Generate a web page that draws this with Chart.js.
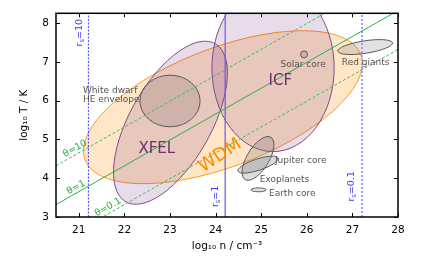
<!DOCTYPE html>
<html>
<head>
<meta charset="utf-8">
<script src="https://cdn.jsdelivr.net/npm/chart.js@4.4.0/dist/chart.umd.min.js"></script>
<style>body{margin:0;background:#fff}</style>
</head>
<body>
<canvas id="phaseChart" width="432" height="267"></canvas>
<script>
// regions of the density-temperature plane (log10 n, log10 T)
var regionNames = ['WDM', 'XFEL', 'ICF', 'White dwarf', 'Solar core', 'Red giants', 'Jupiter core', 'Exoplanets', 'Earth core'];
var regionLogN = [24.16, 23.01, 25.26, 23.0, 25.94, 27.28, 24.93, 24.93, 24.94];
var regionLogT = [5.83, 5.43, 6.84, 5.99, 7.19, 7.38, 4.51, 4.35, 3.70];
var regionWidth = [6.64, 4.53, 2.68, 1.32, 0.15, 1.22, 1.23, 0.94, 0.33];
var regionHeight = [2.98, 1.84, 4.31, 1.33, 0.18, 0.32, 0.50, 0.29, 0.10];
var regionAngle = [25.8, 65.9, 0, 0, 0, 10.4, 64.1, 21.5, 0];

// degeneracy lines theta = T/T_F
var thetaValues = ['10', '1', '0.1'];
var thetaLogN = [20.5, 28];
var thetaLogT = [[4.32, 9.32], [3.32, 8.32], [2.32, 7.32]];

// coupling lines r_s
var rsValues = ['10', '1', '0.1'];
var rsLogN = [21.21, 24.21, 27.21];

var xTicks = [21, 22, 23, 24, 25, 26, 27, 28];
var yTicks = [3, 4, 5, 6, 7, 8];

var FONT = "'DejaVu Sans', sans-serif";

var regionStyle = {
  'WDM':         { fill: 'rgba(255,140,0,0.22)', edge: '#ff9a1f' },
  'XFEL':        { fill: 'rgba(100,20,120,0.15)', edge: '#7f4f8a' },
  'ICF':         { fill: 'rgba(100,20,120,0.15)', edge: '#7f4f8a' },
  'White dwarf': { fill: 'rgba(70,60,60,0.15)', edge: '#5a5a5a' },
  'Solar core':  { fill: 'rgba(90,90,90,0.2)', edge: '#5a5a5a' },
  'Red giants':  { fill: 'rgba(110,110,110,0.2)', edge: '#5a5a5a' },
  'Jupiter core':{ fill: 'rgba(110,110,110,0.25)', edge: '#5a5a5a' },
  'Exoplanets':  { fill: 'rgba(110,110,110,0.25)', edge: '#5a5a5a' },
  'Earth core':  { fill: 'rgba(110,110,110,0.2)', edge: '#5a5a5a' }
};

var thetaStyle = [
  { color: '#3dbf5c', dash: [3, 2] },
  { color: '#27b24a', dash: [] },
  { color: '#3dbf5c', dash: [3, 2] }
];
var rsStyle = [
  { color: '#3b3bff', dash: [2, 1.5], width: 1 },
  { color: '#6a5ae8', dash: [], width: 1.2 },
  { color: '#9a9aff', dash: [2, 2], width: 2 }
];

// text placed in data coordinates
var notes = [
  { text: 'White dwarf', x: 21.09, y: 6.25, align: 'left', color: '#555', size: 9 },
  { text: 'HE envelope', x: 21.09, y: 6.02, align: 'left', color: '#555', size: 9 },
  { text: 'Solar core', x: 25.92, y: 6.92, align: 'center', color: '#555', size: 9 },
  { text: 'Red giants', x: 27.29, y: 6.97, align: 'center', color: '#555', size: 9 },
  { text: 'Jupiter core', x: 25.30, y: 4.44, align: 'left', color: '#555', size: 9 },
  { text: 'Exoplanets', x: 24.97, y: 3.97, align: 'left', color: '#555', size: 9 },
  { text: 'Earth core', x: 25.17, y: 3.61, align: 'left', color: '#555', size: 9 },
  { text: 'ICF', x: 25.42, y: 6.51, align: 'center', color: '#6a2f6e', size: 15 },
  { text: 'XFEL', x: 22.71, y: 4.76, align: 'center', color: '#6a2f6e', size: 15 },
  { text: 'WDM', x: 24.10, y: 4.58, align: 'center', color: '#ff8c00', size: 18, rot: -33 }
];
var thetaNotes = [
  { x: 20.92, y: 4.76 },
  { x: 20.94, y: 3.76 },
  { x: 21.64, y: 3.25 }
];
var rsNotes = [
  { x: 21.01, y: 7.75 },
  { x: 23.99, y: 3.53 },
  { x: 26.98, y: 3.79 }
];

var datasets = [];
thetaValues.forEach(function (t, i) {
  datasets.push({
    label: 'θ=' + t,
    data: thetaLogN.map(function (n, k) { return { x: n, y: thetaLogT[i][k] }; }),
    showLine: true, pointRadius: 0, borderWidth: 1,
    borderColor: thetaStyle[i].color, borderDash: thetaStyle[i].dash
  });
});
rsValues.forEach(function (r, i) {
  datasets.push({
    label: 'rs=' + r,
    data: [{ x: rsLogN[i], y: 3 }, { x: rsLogN[i], y: 8.25 }],
    showLine: true, pointRadius: 0, borderWidth: rsStyle[i].width,
    borderColor: rsStyle[i].color, borderDash: rsStyle[i].dash
  });
});

function drawEllipse(chart, i) {
  var ctx = chart.ctx, xs = chart.scales.x, ys = chart.scales.y;
  var px = xs.getPixelForValue(regionLogN[i]), py = ys.getPixelForValue(regionLogT[i]);
  var sx = xs.getPixelForValue(regionLogN[i] + 1) - px;
  var sy = ys.getPixelForValue(regionLogT[i] + 1) - py;
  var st = regionStyle[regionNames[i]];
  ctx.beginPath();
  ctx.save();
  ctx.translate(px, py);
  ctx.scale(sx, sy);
  ctx.rotate(regionAngle[i] * Math.PI / 180);
  ctx.ellipse(0, 0, regionWidth[i] / 2, regionHeight[i] / 2, 0, 0, 2 * Math.PI);
  ctx.restore();
  ctx.fillStyle = st.fill;
  ctx.fill();
  ctx.lineWidth = 1;
  ctx.strokeStyle = st.edge;
  ctx.stroke();
}

function drawParts(ctx, parts, size, color) {
  var widths = parts.map(function (p) {
    ctx.font = (p.sub ? size * 0.7 : size) + 'px ' + FONT;
    return ctx.measureText(p.t).width;
  });
  var total = widths.reduce(function (a, b) { return a + b; }, 0);
  var cur = -total / 2;
  ctx.fillStyle = color;
  ctx.textAlign = 'left';
  ctx.textBaseline = 'middle';
  parts.forEach(function (p, k) {
    ctx.font = (p.sub ? size * 0.7 : size) + 'px ' + FONT;
    ctx.fillText(p.t, cur, p.sub ? size * 0.3 : 0);
    cur += widths[k];
  });
}

var regionPlugin = {
  id: 'regions',
  beforeDatasetsDraw: function (chart) {
    var a = chart.chartArea, ctx = chart.ctx;
    ctx.save();
    ctx.beginPath();
    ctx.rect(a.left, a.top, a.right - a.left, a.bottom - a.top);
    ctx.clip();
    regionNames.forEach(function (name, i) { drawEllipse(chart, i); });
    ctx.restore();
  }
};

var notePlugin = {
  id: 'notes',
  afterDatasetsDraw: function (chart) {
    var ctx = chart.ctx, xs = chart.scales.x, ys = chart.scales.y;
    notes.forEach(function (n) {
      ctx.save();
      ctx.translate(xs.getPixelForValue(n.x), ys.getPixelForValue(n.y));
      if (n.rot) ctx.rotate(n.rot * Math.PI / 180);
      ctx.font = n.size + 'px ' + FONT;
      ctx.fillStyle = n.color;
      ctx.textAlign = n.align;
      ctx.textBaseline = 'middle';
      ctx.fillText(n.text, 0, 0);
      ctx.restore();
    });
    // theta labels follow the slope of their lines
    thetaValues.forEach(function (t, i) {
      var dx = xs.getPixelForValue(thetaLogN[1]) - xs.getPixelForValue(thetaLogN[0]);
      var dy = ys.getPixelForValue(thetaLogT[i][1]) - ys.getPixelForValue(thetaLogT[i][0]);
      ctx.save();
      ctx.translate(xs.getPixelForValue(thetaNotes[i].x), ys.getPixelForValue(thetaNotes[i].y));
      ctx.rotate(Math.atan2(dy, dx));
      drawParts(ctx, [{ t: 'θ=' + t }], 9.5, '#27b24a');
      ctx.restore();
    });
    rsValues.forEach(function (r, i) {
      ctx.save();
      ctx.translate(xs.getPixelForValue(rsNotes[i].x), ys.getPixelForValue(rsNotes[i].y));
      ctx.rotate(-Math.PI / 2);
      drawParts(ctx, [{ t: 'r' }, { t: 's', sub: true }, { t: '=' + r }], 9.5, '#3b3bff');
      ctx.restore();
    });
  }
};

var framePlugin = {
  id: 'frame',
  afterDraw: function (chart) {
    var ctx = chart.ctx, a = chart.chartArea, xs = chart.scales.x, ys = chart.scales.y;
    ctx.save();
    ctx.strokeStyle = '#000';
    ctx.lineWidth = 1;
    ctx.beginPath();
    xTicks.forEach(function (v) {
      var p = Math.round(xs.getPixelForValue(v)) + 0.5;
      ctx.moveTo(p, a.bottom); ctx.lineTo(p, a.bottom - 4);
      ctx.moveTo(p, a.top); ctx.lineTo(p, a.top + 4);
    });
    yTicks.forEach(function (v) {
      var p = Math.round(ys.getPixelForValue(v)) + 0.5;
      ctx.moveTo(a.left, p); ctx.lineTo(a.left + 4, p);
      ctx.moveTo(a.right, p); ctx.lineTo(a.right - 4, p);
    });
    ctx.stroke();
    ctx.lineWidth = 1.5;
    ctx.strokeRect(a.left, a.top, a.right - a.left, a.bottom - a.top);
    ctx.restore();
  }
};

new Chart(document.getElementById('phaseChart'), {
  type: 'scatter',
  data: { datasets: datasets },
  plugins: [regionPlugin, notePlugin, framePlugin],
  options: {
    responsive: false,
    animation: false,
    layout: { padding: { top: 12, right: 34, left: 0, bottom: 0 } },
    plugins: { legend: { display: false }, tooltip: { enabled: false } },
    scales: {
      x: {
        type: 'linear', min: 20.5, max: 28,
        afterBuildTicks: function (s) { s.ticks = xTicks.map(function (v) { return { value: v }; }); },
        afterFit: function (s) { s.height = 50; },
        ticks: { color: '#000', padding: 7, font: { family: FONT, size: 10.5 } },
        grid: { display: false, drawTicks: false },
        border: { display: false },
        title: {
          display: true, text: 'log₁₀ n / cm⁻³', color: '#000',
          font: { family: FONT, size: 10.5 }, padding: { top: 0, bottom: 14 }
        }
      },
      y: {
        type: 'linear', min: 3, max: 8.25,
        afterBuildTicks: function (s) { s.ticks = yTicks.map(function (v) { return { value: v }; }); },
        afterFit: function (s) { s.width = 56; },
        ticks: { color: '#000', padding: 7, font: { family: FONT, size: 10.5 } },
        grid: { display: false, drawTicks: false },
        border: { display: false },
        title: {
          display: true, text: 'log₁₀ T / K', color: '#000',
          font: { family: FONT, size: 10.5 }, padding: { top: 18, bottom: 0 }
        }
      }
    }
  }
});
</script>
</body>
</html>
